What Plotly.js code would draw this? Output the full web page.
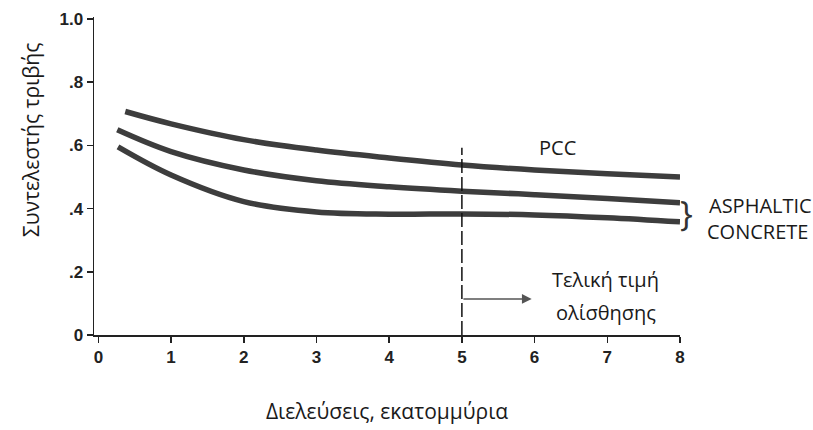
<!DOCTYPE html>
<html>
<head>
<meta charset="utf-8">
<script src="https://cdn.plot.ly/plotly-3.0.1.min.js"></script>
<style>
  html, body { margin: 0; padding: 0; background: #fff; }
  #chart { width: 813px; height: 430px; }
</style>
</head>
<body>
<div id="chart"></div>
<script>
// Friction coefficient vs. passes (millions)
const pccX = [0.37, 1, 2, 3, 4, 5, 6, 7, 8];
const pccY = [0.707, 0.668, 0.618, 0.585, 0.560, 0.538, 0.522, 0.510, 0.500];

const acUpperX = [0.26, 1, 2, 3, 4, 5, 6, 7, 8];
const acUpperY = [0.649, 0.580, 0.522, 0.488, 0.469, 0.455, 0.444, 0.432, 0.418];

const acLowerX = [0.27, 1, 2, 3, 4, 5, 6, 7, 8];
const acLowerY = [0.595, 0.506, 0.422, 0.389, 0.382, 0.383, 0.380, 0.371, 0.358];

// Final skid value boundary
const limitX = [5, 5];
const limitY = [0, 0.592];

const xTickVals = [0, 1, 2, 3, 4, 5, 6, 7, 8];
const xTickText = ['0', '1', '2', '3', '4', '5', '6', '7', '8'];
const yTickVals = [0, 0.2, 0.4, 0.6, 0.8, 1.0];
const yTickText = ['0', '.2', '.4', '.6', '.8', '1.0'];

const curveStyle = { color: '#3d3d3d', width: 5.5, shape: 'spline', smoothing: 1 };

const traces = [
  { x: pccX, y: pccY, mode: 'lines', line: curveStyle, hoverinfo: 'skip' },
  { x: acUpperX, y: acUpperY, mode: 'lines', line: curveStyle, hoverinfo: 'skip' },
  { x: acLowerX, y: acLowerY, mode: 'lines', line: curveStyle, hoverinfo: 'skip' },
  { x: limitX, y: limitY, mode: 'lines',
    line: { color: '#111', width: 1.5, dash: '14px,4px' }, hoverinfo: 'skip' }
];

const textFont = { family: 'Open Sans, sans-serif', size: 20, color: '#1a1a1a' };
const titleFont = { family: 'Open Sans, sans-serif', size: 21, color: '#1a1a1a' };
const tickFont = { family: 'Liberation Sans, Arial, sans-serif', size: 17, color: '#222', weight: 'bold' };

const layout = {
  width: 813, height: 430,
  margin: { l: 94, r: 133, t: 17, b: 95 },
  paper_bgcolor: '#fff', plot_bgcolor: '#fff',
  showlegend: false,
  xaxis: {
    range: [-0.06, 8.0],
    tickvals: xTickVals, ticktext: xTickText,
    ticks: 'outside', ticklen: 6, tickwidth: 1.5, tickcolor: '#222',
    showline: true, linecolor: '#222', linewidth: 1.5,
    showgrid: false, zeroline: false,
    tickfont: tickFont,
    title: { text: 'Διελεύσεις, εκατομμύρια', font: titleFont, standoff: 38 }
  },
  yaxis: {
    range: [0, 1.006],
    tickvals: yTickVals, ticktext: yTickText,
    ticks: 'outside', ticklen: 6, tickwidth: 1.5, tickcolor: '#222',
    showline: true, linecolor: '#222', linewidth: 1.5,
    showgrid: false, zeroline: false,
    tickfont: tickFont
  },
  annotations: [
    // y-axis title, placed above the axis centre
    { xref: 'paper', yref: 'paper', x: -0.1075, y: 0.613, textangle: -90,
      text: 'Συντελεστής τριβής', showarrow: false, font: titleFont,
      xanchor: 'center', yanchor: 'middle' },
    { x: 6.31, y: 0.592, text: 'PCC', showarrow: false, font: textFont,
      xanchor: 'center', yanchor: 'middle' },
    { xref: 'paper', yref: 'y', x: 1.011, y: 0.386, text: '}', showarrow: false,
      font: { family: 'Open Sans, sans-serif', size: 34, color: '#333' },
      xanchor: 'center', yanchor: 'middle' },
    { xref: 'paper', yref: 'y', x: 1.046, y: 0.411, text: 'ASPHALTIC', showarrow: false,
      font: textFont, xanchor: 'left', yanchor: 'middle' },
    { xref: 'paper', yref: 'y', x: 1.043, y: 0.329, text: 'CONCRETE', showarrow: false,
      font: textFont, xanchor: 'left', yanchor: 'middle' },
    { x: 6.98, y: 0.177, text: 'Τελική τιμή', showarrow: false, font: textFont,
      xanchor: 'center', yanchor: 'middle' },
    { x: 6.98, y: 0.070, text: 'ολίσθησης', showarrow: false, font: textFont,
      xanchor: 'center', yanchor: 'middle' },
    { x: 5.96, y: 0.114, ax: 5.0, ay: 0.114, axref: 'x', ayref: 'y',
      text: '', showarrow: true, arrowhead: 2, arrowsize: 1.3, arrowwidth: 1.5,
      arrowcolor: '#555' }
  ]
};

Plotly.newPlot('chart', traces, layout, { staticPlot: true, displayModeBar: false });
</script>
</body>
</html>
